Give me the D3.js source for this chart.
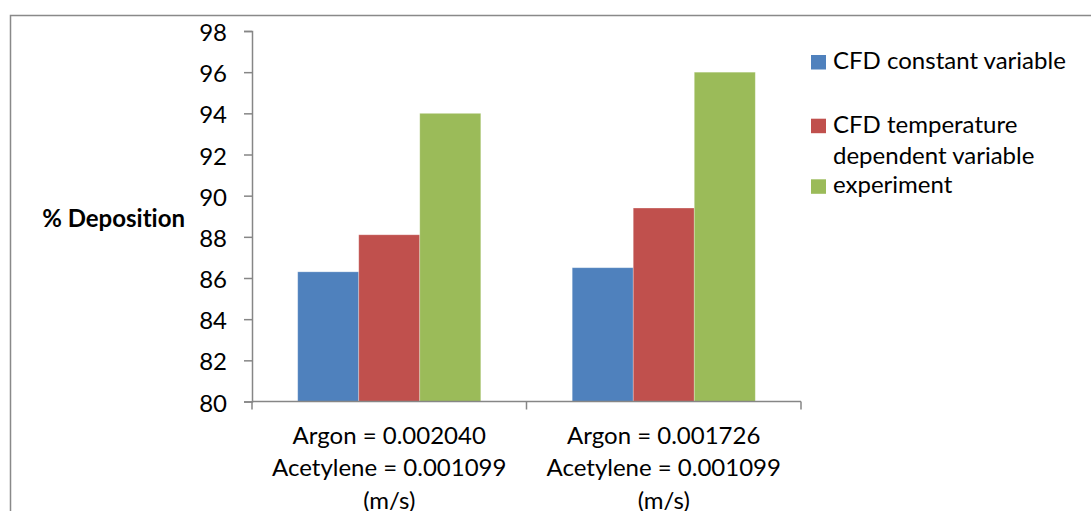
<!DOCTYPE html>
<html>
<head>
<meta charset="utf-8">
<script src="https://cdn.jsdelivr.net/npm/d3@7"></script>
<style>
  html, body { margin: 0; padding: 0; background: #fff; }
  svg { display: block; }
  text { font-family: "Lato", "Open Sans", sans-serif; fill: #000; font-variant-ligatures: none; }
</style>
</head>
<body>
<svg id="chart" width="1091" height="511"></svg>
<script>
// ---- data ----
const categories = [
  ["Argon = 0.002040", "Acetylene = 0.001099", "(m/s)"],
  ["Argon = 0.001726", "Acetylene = 0.001099", "(m/s)"]
];
const seriesNames = [
  ["CFD constant variable"],
  ["CFD temperature", "dependent variable"],
  ["experiment"]
];
const constantVariable = [86.3, 86.5];
const temperatureDependent = [88.1, 89.4];
const experiment = [94.0, 96.0];
const yTicks = [80, 82, 84, 86, 88, 90, 92, 94, 96, 98];
const yLabel = "% Deposition";

// ---- layout ----
const W = 1091, H = 511;
const plot = { left: 252, right: 801, top: 31, bottom: 401.5 };
const colors = ["#4F81BD", "#C0504D", "#9BBB59"];
const axisColor = "#868686";
const fontSize = 24;

const svg = d3.select("#chart");

// outer chart border
svg.append("rect")
  .attr("x", 10.5).attr("y", 15.5)
  .attr("width", W + 20).attr("height", H + 20)
  .attr("fill", "none").attr("stroke", "#898989").attr("stroke-width", 1.5);

const series = [constantVariable, temperatureDependent, experiment];
const catIdx = d3.range(categories.length);

const x0 = d3.scaleBand().domain(catIdx).range([plot.left, plot.right])
  .paddingInner(0).paddingOuter(0);
const groupFrac = 0.667;
const x1 = d3.scaleBand().domain(d3.range(series.length))
  .range([0, x0.bandwidth() * groupFrac]);
const y = d3.scaleLinear().domain([80, 98]).range([plot.bottom, plot.top]);

// bars
const groups = svg.append("g").selectAll("g").data(catIdx).join("g")
  .attr("transform", i => `translate(${x0(i) + x0.bandwidth() * (1 - groupFrac) / 2},0)`);
groups.selectAll("rect")
  .data(i => series.map((s, k) => ({ k, v: s[i] })))
  .join("rect")
  .attr("x", d => x1(d.k))
  .attr("width", x1.bandwidth())
  .attr("y", d => y(d.v))
  .attr("height", d => y(80) - y(d.v))
  .attr("fill", d => colors[d.k])
  .attr("stroke", "rgba(255,255,255,0.35)")
  .attr("stroke-width", 0.8);

// y axis
const yAxis = d3.axisLeft(y).tickValues(yTicks).tickSize(8).tickPadding(17)
  .tickFormat(d3.format("d"));
const gy = svg.append("g").attr("transform", `translate(${plot.left},0)`).call(yAxis);
gy.select(".domain").attr("stroke", axisColor).attr("stroke-width", 1.5);
gy.selectAll(".tick line").attr("stroke", axisColor).attr("stroke-width", 1.5);
gy.selectAll(".tick text").attr("font-size", fontSize)
  .attr("font-family", "Lato, 'Open Sans', sans-serif").attr("fill", "#000")
  .attr("dy", "0.4em");

// x axis
const xAxis = d3.axisBottom(x0).tickSize(0).tickFormat("");
const gx = svg.append("g").attr("transform", `translate(0,${plot.bottom})`).call(xAxis);
gx.select(".domain").attr("stroke", axisColor).attr("stroke-width", 1.5)
  .attr("d", `M${plot.left},0H${plot.right}`);
// category boundary ticks
const bounds = [plot.left, ...catIdx.map(i => x0(i) + x0.bandwidth())];
gx.selectAll(".bound").data(bounds).join("line")
  .attr("class", "bound")
  .attr("x1", d => d).attr("x2", d => d).attr("y1", 0).attr("y2", 8)
  .attr("stroke", axisColor).attr("stroke-width", 1.5);
// category labels
const lineH = 32.5;
gx.selectAll(".cat").data(catIdx).join("text")
  .attr("class", "cat")
  .attr("text-anchor", "middle")
  .attr("font-size", fontSize)
  .attr("x", i => x0(i) + x0.bandwidth() / 2)
  .attr("y", 42)
  .selectAll("tspan").data(i => categories[i]).join("tspan")
  .attr("x", function () { return d3.select(this.parentNode).attr("x"); })
  .attr("dy", (d, j) => j === 0 ? 0 : lineH)
  .text(d => d);

// y label
svg.append("text")
  .attr("x", 185).attr("y", 226.5)
  .attr("text-anchor", "end")
  .attr("font-size", fontSize)
  .attr("font-weight", "bold")
  .text(yLabel);

// legend
const legendX = 811, legendTextX = 833;
const legendBaselines = [69, 132.7, 193.3];
const legendLineH = 31.6;
const lg = svg.append("g").selectAll("g").data(seriesNames).join("g");
lg.append("rect")
  .attr("x", legendX).attr("width", 15).attr("height", 14.5)
  .attr("y", (d, i) => legendBaselines[i] - 14)
  .attr("fill", (d, i) => colors[i]);
lg.append("text")
  .attr("font-size", fontSize)
  .attr("x", legendTextX)
  .attr("y", (d, i) => legendBaselines[i])
  .selectAll("tspan").data(d => d).join("tspan")
  .attr("x", legendTextX)
  .attr("dy", (d, j) => j === 0 ? 0 : legendLineH)
  .text(d => d);
</script>
</body>
</html>
